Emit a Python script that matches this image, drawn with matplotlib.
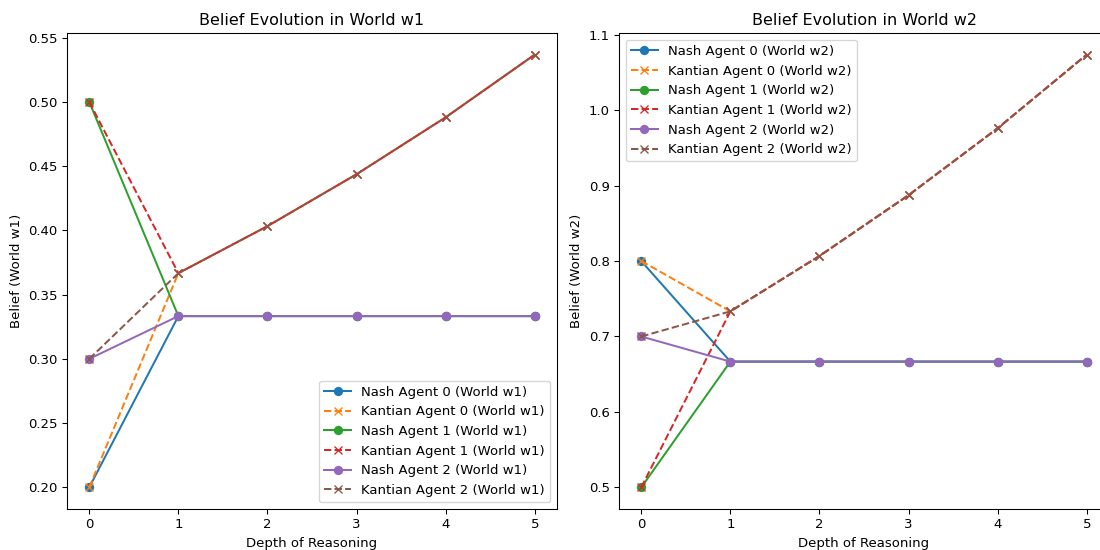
import matplotlib
matplotlib.use('Agg')
import matplotlib.pyplot as plt

depth = [0, 1, 2, 3, 4, 5]

# world w1
nash_w1 = {
    0: [0.2, 0.3333, 0.3333, 0.3333, 0.3333, 0.3333],
    1: [0.5, 0.3333, 0.3333, 0.3333, 0.3333, 0.3333],
    2: [0.3, 0.3333, 0.3333, 0.3333, 0.3333, 0.3333],
}
kant_w1 = {
    0: [0.2, 0.3667, 0.4033, 0.4437, 0.4880, 0.5368],
    1: [0.5, 0.3667, 0.4033, 0.4437, 0.4880, 0.5368],
    2: [0.3, 0.3667, 0.4033, 0.4437, 0.4880, 0.5368],
}

# world w2
nash_w2 = {
    0: [0.8, 0.6667, 0.6667, 0.6667, 0.6667, 0.6667],
    1: [0.5, 0.6667, 0.6667, 0.6667, 0.6667, 0.6667],
    2: [0.7, 0.6667, 0.6667, 0.6667, 0.6667, 0.6667],
}
kant_w2 = {
    0: [0.8, 0.7333, 0.8067, 0.8873, 0.9760, 1.0736],
    1: [0.5, 0.7333, 0.8067, 0.8873, 0.9760, 1.0736],
    2: [0.7, 0.7333, 0.8067, 0.8873, 0.9760, 1.0736],
}

fig, axes = plt.subplots(1, 2, figsize=(11.5, 5.75), dpi=1100/11.5)
# the original looks cropped on the right, so place the axes by hand
axes[0].set_position([67/1100, 41/550, 490/1100, 476/550])
axes[1].set_position([619/1100, 41/550, 490/1100, 476/550])

for ax, w, nash, kant, loc in [(axes[0], 'w1', nash_w1, kant_w1, 'lower right'),
                               (axes[1], 'w2', nash_w2, kant_w2, 'upper left')]:
    for a in range(3):
        ax.plot(depth, nash[a], marker='o', linestyle='-', label=f'Nash Agent {a} (World {w})')
        ax.plot(depth, kant[a], marker='x', linestyle='--', label=f'Kantian Agent {a} (World {w})')
    ax.set_title(f'Belief Evolution in World {w}')
    ax.set_xlabel('Depth of Reasoning')
    ax.set_ylabel(f'Belief (World {w})')
    ax.legend(loc=loc)

plt.savefig('out.png')
